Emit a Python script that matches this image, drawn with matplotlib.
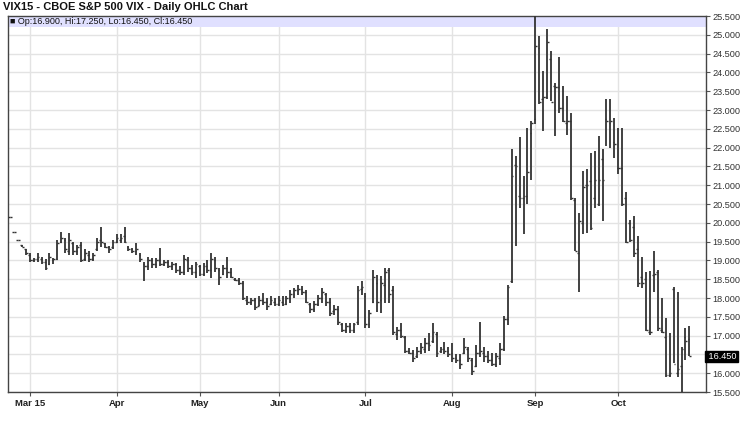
import matplotlib
matplotlib.use('Agg')
import matplotlib.pyplot as plt
from matplotlib.patches import Rectangle

# daily OHLC values (one entry per trading day)
highs = [20.15, 19.75, 19.55, 19.40, 19.30, 19.20, 19.07, 19.20, 19.10, 19.05,
         19.20, 19.07, 19.55, 19.75, 19.60, 19.72, 19.50, 19.40, 19.50, 19.30,
         19.25, 19.20, 19.60, 19.90, 19.47, 19.37, 19.55, 19.70, 19.70, 19.90,
         19.37, 19.33, 19.47, 19.20, 18.97, 19.10, 19.07, 19.07, 19.33, 19.00,
         19.00, 18.97, 18.94, 18.84, 19.15, 19.10, 18.88, 18.97, 18.88, 18.94,
         19.00, 19.20, 19.10, 18.80, 18.88, 19.10, 18.80, 18.53, 18.53, 18.44,
         18.04, 18.00, 18.00, 18.04, 18.13, 18.00, 18.04, 18.00, 18.04, 18.04,
         18.04, 18.22, 18.27, 18.35, 18.31, 18.22, 17.87, 17.91, 18.08, 18.27,
         18.13, 18.00, 17.82, 17.78, 17.34, 17.34, 17.34, 17.34, 18.31, 18.44,
         18.13, 17.68, 18.75, 18.62, 18.58, 18.80, 18.80, 18.31, 17.24, 17.34,
         16.98, 16.67, 16.62, 16.70, 16.80, 16.94, 17.07, 17.34, 17.10, 16.70,
         16.84, 16.70, 16.80, 16.50, 16.50, 16.94, 16.70, 16.40, 16.75, 17.37,
         16.70, 16.58, 16.54, 16.54, 16.80, 17.51, 18.35, 21.97, 21.77, 22.27,
         21.24, 22.53, 22.71, 25.50, 24.98, 24.04, 25.15, 24.57, 23.73, 24.40,
         23.64, 23.37, 22.93, 20.67, 20.27, 21.38, 21.44, 21.86, 21.91, 22.31,
         21.95, 23.29, 23.29, 22.80, 22.53, 22.53, 20.82, 20.08, 20.17, 19.66,
         19.09, 18.68, 18.71, 19.26, 18.75, 18.00, 17.47, 17.07, 18.29, 18.15,
         16.71, 17.20, 17.25]
lows = [20.15, 19.75, 19.55, 19.35, 19.15, 18.95, 18.95, 18.97, 18.90, 18.75,
        18.87, 18.90, 19.00, 19.45, 19.20, 19.15, 19.15, 19.15, 18.95, 18.98,
        18.95, 18.98, 19.25, 19.35, 19.33, 19.20, 19.30, 19.47, 19.47, 19.47,
        19.25, 19.20, 19.15, 18.97, 18.44, 18.75, 18.80, 18.80, 18.84, 18.84,
        18.80, 18.75, 18.67, 18.62, 18.62, 18.70, 18.62, 18.53, 18.58, 18.58,
        18.67, 18.53, 18.70, 18.35, 18.62, 18.53, 18.53, 18.44, 18.35, 17.95,
        17.82, 17.82, 17.68, 17.78, 17.82, 17.68, 17.82, 17.78, 17.78, 17.78,
        17.82, 17.87, 18.00, 18.08, 18.08, 17.87, 17.60, 17.64, 17.78, 17.87,
        17.78, 17.51, 17.55, 17.28, 17.10, 17.07, 17.07, 17.07, 17.28, 18.08,
        17.20, 17.20, 17.87, 17.64, 17.60, 17.87, 17.87, 17.02, 16.89, 16.94,
        16.54, 16.50, 16.31, 16.40, 16.50, 16.54, 16.58, 16.80, 16.44, 16.54,
        16.50, 16.44, 16.31, 16.27, 16.10, 16.50, 16.31, 15.95, 16.17, 16.44,
        16.31, 16.27, 16.20, 16.17, 16.22, 16.58, 17.28, 18.40, 19.37, 20.40,
        19.70, 20.50, 21.15, 22.62, 23.15, 22.44, 23.29, 23.24, 22.31, 22.93,
        22.67, 22.33, 20.60, 19.24, 18.17, 19.69, 19.73, 19.80, 20.40, 20.44,
        20.04, 22.04, 22.00, 21.73, 21.29, 20.44, 19.47, 19.50, 19.10, 18.29,
        18.27, 17.11, 17.02, 18.17, 17.11, 17.07, 15.91, 15.91, 16.27, 15.91,
        15.50, 16.35, 16.45]
opens = [20.15, 19.75, 19.55, 19.40, 19.30, 19.15, 19.00, 19.05, 19.05, 18.95,
         18.90, 19.00, 19.05, 19.50, 19.55, 19.25, 19.45, 19.25, 19.40, 19.05,
         19.15, 19.05, 19.30, 19.55, 19.45, 19.35, 19.35, 19.50, 19.55, 19.65,
         19.35, 19.30, 19.25, 19.15, 18.90, 18.85, 19.00, 18.90, 19.00, 18.90,
         18.95, 18.85, 18.90, 18.75, 18.70, 19.00, 18.80, 18.70, 18.85, 18.65,
         18.85, 18.75, 19.00, 18.75, 18.65, 18.80, 18.70, 18.50, 18.48, 18.40,
         17.95, 17.90, 17.95, 17.80, 17.95, 17.90, 17.85, 17.90, 17.85, 17.90,
         17.85, 18.00, 18.10, 18.20, 18.25, 18.15, 17.85, 17.70, 17.85, 18.00,
         18.10, 17.90, 17.65, 17.70, 17.30, 17.15, 17.25, 17.15, 17.35, 18.25,
         18.05, 17.30, 17.90, 18.40, 17.95, 18.35, 18.75, 18.20, 17.05, 17.15,
         16.95, 16.60, 16.55, 16.45, 16.60, 16.65, 16.80, 16.85, 17.05, 16.60,
         16.65, 16.60, 16.55, 16.40, 16.35, 16.55, 16.65, 16.35, 16.20, 16.55,
         16.55, 16.45, 16.35, 16.25, 16.40, 16.65, 17.45, 18.45, 21.55, 20.70,
         20.65, 20.70, 22.40, 22.75, 24.65, 23.30, 23.35, 24.35, 23.65, 23.60,
         23.05, 22.65, 22.70, 20.60, 19.20, 20.00, 21.00, 21.10, 20.65, 20.50,
         21.70, 22.75, 22.65, 22.15, 21.45, 21.45, 20.65, 20.00, 19.90, 19.30,
         18.55, 18.50, 17.10, 18.60, 18.70, 17.15, 16.95, 15.95, 18.25, 16.00,
         16.20, 16.95, 16.90]
closes = [20.15, 19.75, 19.55, 19.35, 19.20, 19.00, 19.05, 19.10, 18.95, 18.80,
          19.10, 19.05, 19.45, 19.60, 19.30, 19.55, 19.25, 19.35, 19.00, 19.20,
          19.05, 19.15, 19.50, 19.50, 19.35, 19.30, 19.50, 19.60, 19.60, 19.50,
          19.30, 19.25, 19.30, 19.05, 18.85, 19.00, 18.90, 19.00, 18.90, 18.95,
          18.85, 18.90, 18.75, 18.70, 19.05, 18.80, 18.70, 18.90, 18.65, 18.85,
          18.75, 19.05, 18.80, 18.55, 18.80, 18.70, 18.55, 18.47, 18.40, 18.00,
          17.90, 17.95, 17.75, 17.95, 17.90, 17.80, 17.95, 17.85, 17.95, 17.85,
          18.00, 18.10, 18.20, 18.25, 18.15, 17.90, 17.70, 17.85, 18.00, 18.15,
          17.90, 17.60, 17.70, 17.35, 17.15, 17.25, 17.15, 17.30, 18.20, 18.30,
          17.30, 17.60, 18.55, 17.90, 18.40, 18.70, 18.10, 17.10, 17.15, 17.00,
          16.60, 16.55, 16.40, 16.60, 16.70, 16.80, 16.75, 17.10, 16.55, 16.65,
          16.60, 16.50, 16.40, 16.35, 16.25, 16.70, 16.40, 16.05, 16.55, 16.60,
          16.45, 16.35, 16.25, 16.45, 16.65, 17.45, 18.30, 21.25, 21.50, 20.65,
          20.70, 21.35, 22.65, 24.70, 23.20, 23.35, 24.80, 23.20, 23.60, 23.05,
          22.70, 22.70, 20.65, 19.25, 20.05, 20.95, 21.00, 19.85, 21.15, 21.15,
          21.15, 22.70, 22.70, 22.10, 21.45, 20.50, 19.50, 19.55, 19.20, 18.40,
          18.40, 17.15, 17.10, 18.65, 17.20, 17.10, 15.95, 16.00, 16.25, 16.10,
          16.65, 16.85, 16.45]

month_labels = ['Mar 15', 'Apr', 'May', 'Jun', 'Jul', 'Aug', 'Sep', 'Oct']
month_starts = [5, 27, 48, 68, 90, 112, 133, 154]
y_ticks = [15.5 + 0.5 * k for k in range(21)]

bar_color = '#333333'
grid_color = '#e3e3e3'
fam = ['Liberation Sans', 'DejaVu Sans']

fig = plt.figure(figsize=(7.5, 4.26), dpi=100)
ax = fig.add_axes([8 / 750, 1 - 392 / 426, 698 / 750, 376 / 426])

days = list(range(len(highs)))
ax.vlines(days, lows, highs, color=bar_color, linewidth=1.3, zorder=3)
ax.hlines(opens, [d - 0.45 for d in days], days, color=bar_color, linewidth=1.0, zorder=3)
ax.hlines(closes, days, [d + 0.45 for d in days], color=bar_color, linewidth=1.0, zorder=3)

ax.set_xlim(-0.5, 176.2)
ax.set_ylim(15.5, 25.5)

ax.set_xticks(month_starts)
ax.set_xticklabels(month_labels, fontweight='bold', fontsize=6.8, family=fam)
ax.set_yticks(y_ticks)
# the label next to the last close hides the 16.500 tick label
ylabels = ['' if abs(v - 16.5) < 1e-9 else '%.3f' % v for v in y_ticks]
ax.set_yticklabels(ylabels, fontsize=6.6, family=fam, color='#333333')
ax.yaxis.tick_right()
ax.tick_params(axis='y', length=3, width=0.8, pad=1.5, colors='#555555', labelcolor='#333333')
ax.tick_params(axis='x', length=3, width=0.8, pad=2, colors='#555555', labelcolor='#222222')

ax.grid(True, color=grid_color, linewidth=1.0, zorder=0)
ax.set_axisbelow(True)
for s in ax.spines.values():
    s.set_color('#444444')
    s.set_linewidth(1.0)

# legend band at the top of the plot
ax.add_patch(Rectangle((0, 1 - 11 / 376), 1, 11 / 376, transform=ax.transAxes,
                       facecolor='#e0e0ff', edgecolor='none', zorder=1))
ax.text(0.003, 1 - 5.5 / 376, '\u25a0 Op:%.3f, Hi:%.3f, Lo:%.3f, Cl:%.3f'
        % (opens[-1], highs[-1], lows[-1], closes[-1]),
        transform=ax.transAxes, va='center', ha='left', fontsize=6.5,
        family=fam, color='#111111', zorder=4)

# last close marker on the price axis
ax.text(1.0, closes[-1], ' %.3f' % closes[-1], transform=ax.get_yaxis_transform(),
        va='center', ha='left', fontsize=6.6, color='white', family=fam,
        bbox=dict(boxstyle='square,pad=0.12', facecolor='black', edgecolor='black'),
        zorder=5, clip_on=False)

fig.text(3 / 750, 1 - 7 / 426, 'VIX15 - CBOE S&P 500 VIX - Daily OHLC Chart',
         fontsize=8, fontweight='bold', va='center', ha='left',
         family=fam, color='#111111')

fig.savefig('out.png', dpi=100)
